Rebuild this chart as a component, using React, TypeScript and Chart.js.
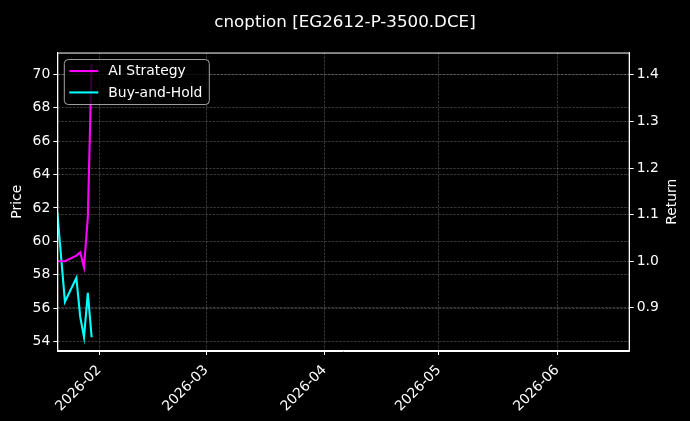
import React, { useEffect, useRef } from 'react';
import { Chart, registerables } from 'chart.js';

Chart.register(...registerables);

// trading days shown in the reference
const dates = ['2026-01-21', '2026-01-23', '2026-01-26', '2026-01-27', '2026-01-28', '2026-01-29', '2026-01-30'];
const aiStrategy = [1.0, 1.0, 1.012, 1.019, 0.987, 1.094, 1.424];
const buyAndHold = [61.75, 56.39, 57.82, 55.5, 54.27, 56.92, 54.27];

const xMin = '2026-01-21';
const xMax = '2026-06-20';
const xTicks = ['2026-02-01', '2026-03-01', '2026-04-01', '2026-05-01', '2026-06-01'];
const xTickLabels = ['2026-02', '2026-03', '2026-04', '2026-05', '2026-06'];
const priceTicks = [54, 56, 58, 60, 62, 64, 66, 68, 70];
const returnTicks = [0.9, 1.0, 1.1, 1.2, 1.3, 1.4];

const FONT = 'DejaVu Sans';
const GRID = 'rgba(255,255,255,0.3)';

const legendItems = [
  { label: 'AI Strategy', color: '#ff00ff' },
  { label: 'Buy-and-Hold', color: '#00ffff' },
];

const day = (s: string) => Date.parse(s + 'T00:00:00Z');

const gridOpts = {
  color: GRID,
  lineWidth: 0.7,
  tickColor: '#fff',
  tickLength: 4,
  tickWidth: 1,
};
const borderOpts = { display: true, color: '#fff', width: 1, dash: [2.6, 1.1] };

const framePlugin = {
  id: 'frame',
  beforeDraw(chart: Chart) {
    const { ctx, width, height } = chart;
    ctx.save();
    ctx.fillStyle = '#000';
    ctx.fillRect(0, 0, width, height);
    ctx.restore();
  },
  afterDraw(chart: Chart) {
    const { ctx, chartArea: a } = chart;
    ctx.save();
    // full frame (spines)
    ctx.strokeStyle = '#fff';
    ctx.lineWidth = 1;
    ctx.setLineDash([]);
    ctx.strokeRect(a.left + 0.5, a.top + 0.5, a.right - a.left - 1, a.bottom - a.top - 1);

    // right axis title, reading bottom to top
    ctx.fillStyle = '#fff';
    ctx.font = `13.9px "${FONT}"`;
    ctx.textAlign = 'center';
    ctx.textBaseline = 'middle';
    ctx.translate(672, (a.top + a.bottom) / 2);
    ctx.rotate(-Math.PI / 2);
    ctx.fillText('Return', 0, 0);
    ctx.restore();

    // legend box
    ctx.save();
    const x = a.left + 7, y = a.top + 7, w = 145, h = 45, r = 4;
    ctx.beginPath();
    ctx.moveTo(x + r, y);
    ctx.arcTo(x + w, y, x + w, y + h, r);
    ctx.arcTo(x + w, y + h, x, y + h, r);
    ctx.arcTo(x, y + h, x, y, r);
    ctx.arcTo(x, y, x + w, y, r);
    ctx.closePath();
    ctx.fillStyle = 'rgba(0,0,0,0.8)';
    ctx.fill();
    ctx.strokeStyle = 'rgba(204,204,204,0.8)';
    ctx.lineWidth = 1;
    ctx.stroke();
    ctx.font = `13.9px "${FONT}"`;
    ctx.textAlign = 'left';
    ctx.textBaseline = 'middle';
    legendItems.forEach((item, i) => {
      const ly = y + 11.5 + i * 21.4;
      ctx.strokeStyle = item.color;
      ctx.lineWidth = 2.1;
      ctx.beginPath();
      ctx.moveTo(x + 5, ly);
      ctx.lineTo(x + 34, ly);
      ctx.stroke();
      ctx.fillStyle = '#fff';
      ctx.fillText(item.label, x + 44, ly + 0.5);
    });
    ctx.restore();
  },
};

const App: React.FC = () => {
  const canvasRef = useRef<HTMLCanvasElement>(null);
  const chartRef = useRef<Chart | null>(null);

  useEffect(() => {
    document.body.style.margin = '0';
    document.body.style.background = '#000';
    if (!canvasRef.current) return;
    if (chartRef.current) chartRef.current.destroy();

    const xs = dates.map(day);

    chartRef.current = new Chart(canvasRef.current, {
      type: 'line',
      data: {
        datasets: [
          {
            label: 'AI Strategy',
            data: xs.map((x, i) => ({ x, y: aiStrategy[i] })),
            borderColor: '#ff00ff',
            borderWidth: 2.1,
            pointRadius: 0,
            yAxisID: 'y1',
          },
          {
            label: 'Buy-and-Hold',
            data: xs.map((x, i) => ({ x, y: buyAndHold[i] })),
            borderColor: '#00ffff',
            borderWidth: 2.1,
            pointRadius: 0,
            yAxisID: 'y',
          },
        ],
      },
      options: {
        responsive: false,
        animation: false,
        layout: { padding: 0 },
        plugins: {
          legend: { display: false },
          tooltip: { enabled: false },
          title: {
            display: true,
            text: 'cnoption [EG2612-P-3500.DCE]',
            color: '#fff',
            font: { family: FONT, size: 16.7, weight: 'normal' },
            padding: { top: 13, bottom: 19.5 },
          },
        },
        scales: {
          x: {
            type: 'linear',
            min: day(xMin),
            max: day(xMax),
            afterBuildTicks: (s: any) => {
              s.ticks = xTicks.map((t) => ({ value: day(t) }));
            },
            afterFit: (s: any) => {
              s.height = 70;
              s.paddingLeft = 0;
              s.paddingRight = 0;
            },
            ticks: {
              color: '#fff',
              font: { family: FONT, size: 13.9 },
              minRotation: 45,
              maxRotation: 45,
              padding: 7,
              autoSkip: false,
              callback: (_v: any, i: number) => xTickLabels[i],
            },
            grid: gridOpts,
            border: borderOpts,
          },
          y: {
            position: 'left',
            min: 53.45,
            max: 71.29,
            afterBuildTicks: (s: any) => {
              s.ticks = priceTicks.map((v) => ({ value: v }));
            },
            afterFit: (s: any) => {
              s.width = 57.3;
            },
            title: {
              display: true,
              text: 'Price',
              color: '#fff',
              font: { family: FONT, size: 13.9 },
              padding: { top: 9, bottom: 0 },
            },
            ticks: {
              color: '#fff',
              font: { family: FONT, size: 13.9 },
              padding: 3,
              callback: (v: any) => String(v),
            },
            grid: gridOpts,
            border: borderOpts,
          },
          y1: {
            position: 'right',
            min: 0.8073,
            max: 1.4478,
            afterBuildTicks: (s: any) => {
              s.ticks = returnTicks.map((v) => ({ value: v }));
            },
            afterFit: (s: any) => {
              s.width = 60.3;
            },
            ticks: {
              color: '#fff',
              font: { family: FONT, size: 13.9 },
              padding: 3,
              callback: (v: any) => Number(v).toFixed(1),
            },
            grid: gridOpts,
            border: borderOpts,
          },
        },
      },
      plugins: [framePlugin],
    });

    return () => {
      if (chartRef.current) {
        chartRef.current.destroy();
        chartRef.current = null;
      }
    };
  }, []);

  return (
    <div style={{ width: 690, height: 421, background: '#000' }}>
      <canvas ref={canvasRef} width={690} height={421} />
    </div>
  );
};

export default App;
